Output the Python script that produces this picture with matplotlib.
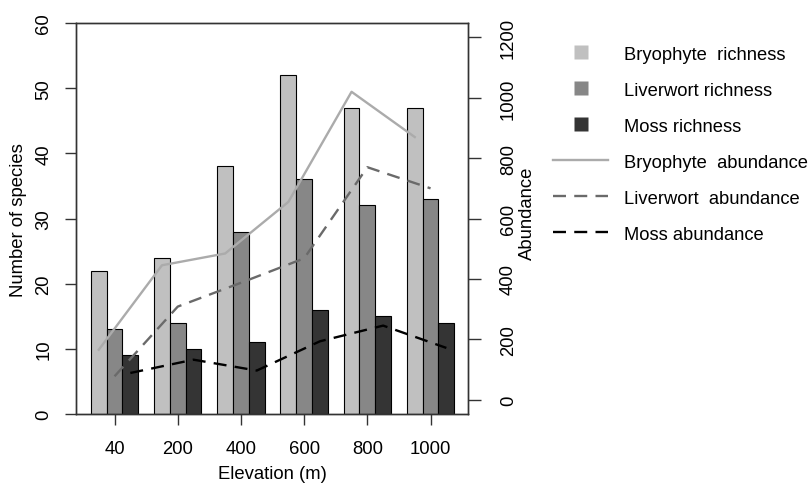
import matplotlib
matplotlib.use("Agg")
import matplotlib.pyplot as plt
from matplotlib.lines import Line2D
import numpy as np

plt.rcParams['font.family'] = ['Liberation Sans', 'DejaVu Sans']

# data
elevation = ['40', '200', '400', '600', '800', '1000']
bryo_rich = [22, 24, 38, 52, 47, 47]
liver_rich = [13, 14, 28, 36, 32, 33]
moss_rich = [9, 10, 11, 16, 15, 14]
bryo_ab = [165, 445, 484, 655, 1020, 870]
liver_ab = [77, 308, 387, 468, 770, 700]
moss_ab = [88, 132, 96, 193, 245, 171]

c_bryo = '#c0c0c0'
c_liver = '#878787'
c_moss = '#343434'

W, H = 811, 485
fig = plt.figure(figsize=(W/100, H/100), dpi=100)
ax = fig.add_axes([76/W, (H-415)/H, (468-76)/W, (415-24)/H])

x = np.arange(len(elevation))*4.0
ax.bar(x-1, bryo_rich, 1, color=c_bryo, edgecolor='k', linewidth=0.8)
ax.bar(x, liver_rich, 1, color=c_liver, edgecolor='k', linewidth=0.8)
ax.bar(x+1, moss_rich, 1, color=c_moss, edgecolor='k', linewidth=0.8)
ax.set_xlim(-2.44, 22.37)
ax.set_ylim(0, 60)
ax.set_yticks(range(0, 61, 10))
ax.set_xticks(x)
ax.set_xticklabels(elevation)

ax2 = ax.twinx()
ax2.plot(x-1, bryo_ab, color='#ababab', lw=1.7)
ax2.plot(x, liver_ab, color='#6a6a6a', lw=1.7, dashes=(5.5, 3.5))
ax2.plot(x+1, moss_ab, color='k', lw=1.7, dashes=(5.5, 3.5))
ax2.set_ylim(-48, 1248)
ax2.set_yticks(range(0, 1201, 200))

fs = 13.3
for a in (ax, ax2):
    for s in a.spines.values():
        s.set_linewidth(1.0)
        s.set_color('#333333')
ax.tick_params(axis='both', direction='out', length=8, width=1, color='#333333', labelsize=fs)
ax.tick_params(axis='x', pad=11)
ax.tick_params(axis='y', pad=9, labelrotation=90)
for t in ax.get_yticklabels():
    t.set_va('center')
ax2.tick_params(axis='y', direction='out', length=9, width=1, color='#333333', labelsize=fs,
                pad=14, labelrotation=90)
for t in ax2.get_yticklabels():
    t.set_va('center')

fig.text(19/W, 1-220/H, 'Number of species', rotation=90, ha='center', va='center', fontsize=fs)
fig.text(527/W, 1-213/H, 'Abundance', rotation=90, ha='center', va='center', fontsize=fs)
fig.text(272/W, 1-475/H, 'Elevation (m)', ha='center', va='center', fontsize=fs)

handles = [
    Line2D([], [], ls='none', marker='s', ms=9.5, mfc=c_bryo, mec='none'),
    Line2D([], [], ls='none', marker='s', ms=9.5, mfc=c_liver, mec='none'),
    Line2D([], [], ls='none', marker='s', ms=9.5, mfc=c_moss, mec='none'),
    Line2D([], [], color='#ababab', lw=1.7),
    Line2D([], [], color='#6a6a6a', lw=1.7, dashes=(5.5, 3.5)),
    Line2D([], [], color='k', lw=1.7, dashes=(5.5, 3.5)),
]
labels = ['Bryophyte  richness', 'Liverwort richness', 'Moss richness',
          'Bryophyte  abundance', 'Liverwort  abundance', 'Moss abundance']
fig.legend(handles, labels, loc='upper left', bbox_to_anchor=(553/W, 1-46.5/H),
           frameon=False, fontsize=13.2, handlelength=3.0, handletextpad=0.9,
           labelspacing=1.04, borderaxespad=0, borderpad=0)

fig.savefig('out.png', dpi=100)
